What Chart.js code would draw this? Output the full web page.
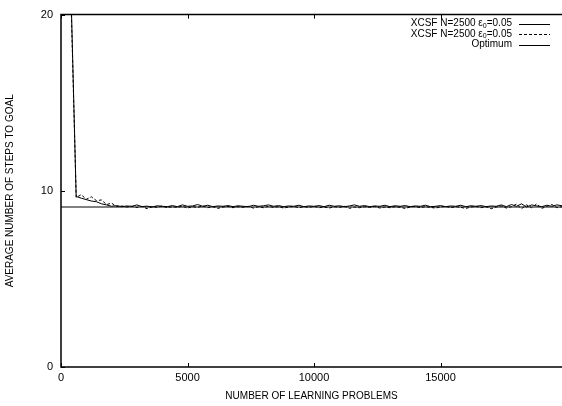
<!DOCTYPE html>
<html>
<head>
<meta charset="utf-8">
<script src="https://cdn.jsdelivr.net/npm/chart.js@4.4.1/dist/chart.umd.min.js"></script>
<style>
  html, body { margin: 0; padding: 0; background: #fff; }
  #wrap { width: 562px; height: 406px; }
</style>
</head>
<body>
<div id="wrap"><canvas id="grafico"></canvas></div>
<script>
// numero de problemas (eje x)
const problemas = [
  0, 200, 400, 600, 800, 1000, 1200, 1400, 1600, 1800,
  2000, 2200, 2400, 2600, 2800, 3000, 3200, 3400, 3600, 3800,
  4000, 4200, 4400, 4600, 4800, 5000, 5200, 5400, 5600, 5800,
  6000, 6200, 6400, 6600, 6800, 7000, 7200, 7400, 7600, 7800,
  8000, 8200, 8400, 8600, 8800, 9000, 9200, 9400, 9600, 9800,
  10000, 10200, 10400, 10600, 10800, 11000, 11200, 11400, 11600, 11800,
  12000, 12200, 12400, 12600, 12800, 13000, 13200, 13400, 13600, 13800,
  14000, 14200, 14400, 14600, 14800, 15000, 15200, 15400, 15600, 15800,
  16000, 16200, 16400, 16600, 16800, 17000, 17200, 17400, 17600, 17800,
  18000, 18200, 18400, 18600, 18800, 19000, 19200, 19400, 19600, 19800
];

// XCSF N=2500, linea continua
const pasosA = [
  60, 40, 21, 9.68, 9.58, 9.5, 9.42, 9.38, 9.26, 9.2,
  9.12, 9.16, 9.1, 9.14, 9.12, 9.2, 9.1, 9.13, 9.08, 9.15,
  9.12, 9.1, 9.16, 9.1, 9.2, 9.12, 9.14, 9.22, 9.12, 9.18,
  9.1, 9.14, 9.12, 9.16, 9.1, 9.15, 9.12, 9.1, 9.18, 9.12,
  9.15, 9.2, 9.12, 9.16, 9.1, 9.14, 9.12, 9.18, 9.1, 9.14,
  9.12, 9.16, 9.1, 9.18, 9.12, 9.15, 9.1, 9.14, 9.2, 9.12,
  9.16, 9.1, 9.14, 9.12, 9.18, 9.1, 9.15, 9.12, 9.16, 9.1,
  9.14, 9.12, 9.18, 9.1, 9.12, 9.16, 9.1, 9.14, 9.12, 9.18,
  9.1, 9.15, 9.12, 9.16, 9.1, 9.14, 9.12, 9.2, 9.1, 9.22,
  9.12, 9.26, 9.08, 9.2, 9.14, 9.1, 9.18, 9.12, 9.2, 9.15
];

// XCSF N=2500, linea punteada
const pasosB = [
  60, 40, 20.6, 9.62, 9.78, 9.52, 9.66, 9.44, 9.48, 9.22,
  9.3, 9.1, 9.14, 9.08, 9.12, 9.05, 9.12, 8.98, 9.1, 9.06,
  9.14, 9.04, 9.1, 9.06, 9.12, 9.02, 9.1, 9.06, 9.14, 9.04,
  9.1, 9.0, 9.08, 9.12, 9.04, 9.1, 9.06, 9.12, 9.02, 9.1,
  9.04, 9.12, 9.06, 9.1, 9.02, 9.08, 9.12, 9.04, 9.1, 9.06,
  9.12, 9.04, 9.08, 9.02, 9.1, 9.06, 9.12, 9.0, 9.08, 9.04,
  9.1, 9.06, 9.12, 9.02, 9.08, 9.04, 9.1, 9.06, 9.0, 9.08,
  9.12, 9.04, 9.1, 9.06, 9.02, 9.08, 9.12, 9.04, 9.1, 9.06,
  9.0, 9.08, 9.12, 9.04, 9.1, 8.98, 9.08, 9.14, 9.02, 9.1,
  9.24, 8.98, 9.2, 9.04, 9.26, 9.0, 9.12, 9.22, 9.04, 9.1
];

const optimo = 9.08;

// marcas de los ejes
const ticksX = [0, 5000, 10000, 15000];
const ticksY = [0, 10, 20];
const ejeX = { min: 0, max: 19800 };
const ejeY = { min: 0, max: 20 };

const leyenda = [
  { texto: ["XCSF N=2500 \u03b5", "0", "=0.05"], dash: [] },
  { texto: ["XCSF N=2500 \u03b5", "0", "=0.05"], dash: [3, 2] },
  { texto: ["Optimum"], dash: [] }
];

function puntos(valores) {
  return problemas.map((x, i) => ({ x: x, y: valores[i] }));
}

const fuente = "Liberation Sans, Arial, Helvetica, sans-serif";

// bordes, marcas hacia adentro y leyenda estilo gnuplot
const marcoPlugin = {
  id: "marco",
  afterDraw(chart) {
    const ctx = chart.ctx;
    const a = chart.chartArea;
    const sx = chart.scales.x;
    const sy = chart.scales.y;
    ctx.save();
    ctx.strokeStyle = "#000";
    ctx.lineWidth = 1.5;
    ctx.beginPath();
    ctx.moveTo(a.right, a.top);
    ctx.lineTo(a.left, a.top);
    ctx.lineTo(a.left, a.bottom);
    ctx.lineTo(a.right, a.bottom);
    ctx.stroke();

    ctx.lineWidth = 1;
    ctx.beginPath();
    ticksX.forEach(v => {
      const px = Math.round(sx.getPixelForValue(v)) + 0.5;
      ctx.moveTo(px, a.bottom); ctx.lineTo(px, a.bottom - 4);
      ctx.moveTo(px, a.top); ctx.lineTo(px, a.top + 4);
    });
    ticksY.forEach(v => {
      const py = Math.round(sy.getPixelForValue(v)) + 0.5;
      ctx.moveTo(a.left, py); ctx.lineTo(a.left + 4, py);
    });
    ctx.stroke();

    // leyenda
    ctx.font = "10px " + fuente;
    ctx.textBaseline = "middle";
    ctx.fillStyle = "#000";
    const derecha = 512;
    leyenda.forEach((item, i) => {
      const y = 23.5 + i * 10.5;
      let ancho = ctx.measureText(item.texto[0]).width;
      if (item.texto.length > 1) {
        ctx.font = "7px " + fuente;
        ancho += ctx.measureText(item.texto[1]).width;
        ctx.font = "10px " + fuente;
        ancho += ctx.measureText(item.texto[2]).width;
      }
      let x = derecha - ancho;
      ctx.textAlign = "left";
      ctx.fillText(item.texto[0], x, y);
      x += ctx.measureText(item.texto[0]).width;
      if (item.texto.length > 1) {
        ctx.font = "7px " + fuente;
        ctx.fillText(item.texto[1], x, y + 2.5);
        x += ctx.measureText(item.texto[1]).width;
        ctx.font = "10px " + fuente;
        ctx.fillText(item.texto[2], x, y);
      }
      ctx.setLineDash(item.dash);
      ctx.beginPath();
      ctx.moveTo(519, Math.round(y) + 0.5);
      ctx.lineTo(550, Math.round(y) + 0.5);
      ctx.stroke();
      ctx.setLineDash([]);
    });
    ctx.restore();
  }
};

const config = {
  type: "line",
  data: {
    datasets: [
      {
        label: "XCSF N=2500 \u03b5\u2080=0.05",
        data: puntos(pasosA),
        borderColor: "#000",
        borderWidth: 1,
        pointRadius: 0,
        tension: 0
      },
      {
        label: "XCSF N=2500 \u03b5\u2080=0.05 ",
        data: puntos(pasosB),
        borderColor: "#000",
        borderWidth: 1,
        borderDash: [3, 2],
        pointRadius: 0,
        tension: 0
      },
      {
        label: "Optimum",
        data: [{ x: ejeX.min, y: optimo }, { x: ejeX.max, y: optimo }],
        borderColor: "#000",
        borderWidth: 1,
        pointRadius: 0
      }
    ]
  },
  options: {
    responsive: true,
    maintainAspectRatio: false,
    animation: false,
    layout: { padding: { top: 9, right: 0, left: 0, bottom: 4 } },
    plugins: {
      legend: { display: false },
      tooltip: { enabled: false }
    },
    scales: {
      x: {
        type: "linear",
        min: ejeX.min,
        max: ejeX.max,
        border: { display: false },
        grid: { display: false, drawTicks: false },
        ticks: {
          autoSkip: false,
          color: "#000",
          padding: 4,
          maxRotation: 0,
          font: { family: fuente, size: 11 },
          callback: (v) => String(v)
        },
        afterBuildTicks(scale) {
          scale.ticks = ticksX.map(v => ({ value: v }));
        },
        afterFit(scale) { scale.height = 35; },
        title: {
          display: true,
          text: "NUMBER OF LEARNING PROBLEMS",
          color: "#000",
          padding: { top: 3, bottom: 0 },
          font: { family: fuente, size: 10 }
        }
      },
      y: {
        min: ejeY.min,
        max: ejeY.max,
        border: { display: false },
        grid: { display: false, drawTicks: false },
        ticks: {
          color: "#000",
          padding: 8,
          font: { family: fuente, size: 11 }
        },
        afterBuildTicks(scale) {
          scale.ticks = ticksY.map(v => ({ value: v }));
        },
        afterFit(scale) { scale.width = 61; },
        title: {
          display: true,
          text: "AVERAGE NUMBER OF STEPS TO GOAL",
          color: "#000",
          padding: { top: 4, bottom: 0 },
          font: { family: fuente, size: 10 }
        }
      }
    }
  },
  plugins: [marcoPlugin]
};

new Chart(document.getElementById("grafico"), config);
</script>
</body>
</html>
